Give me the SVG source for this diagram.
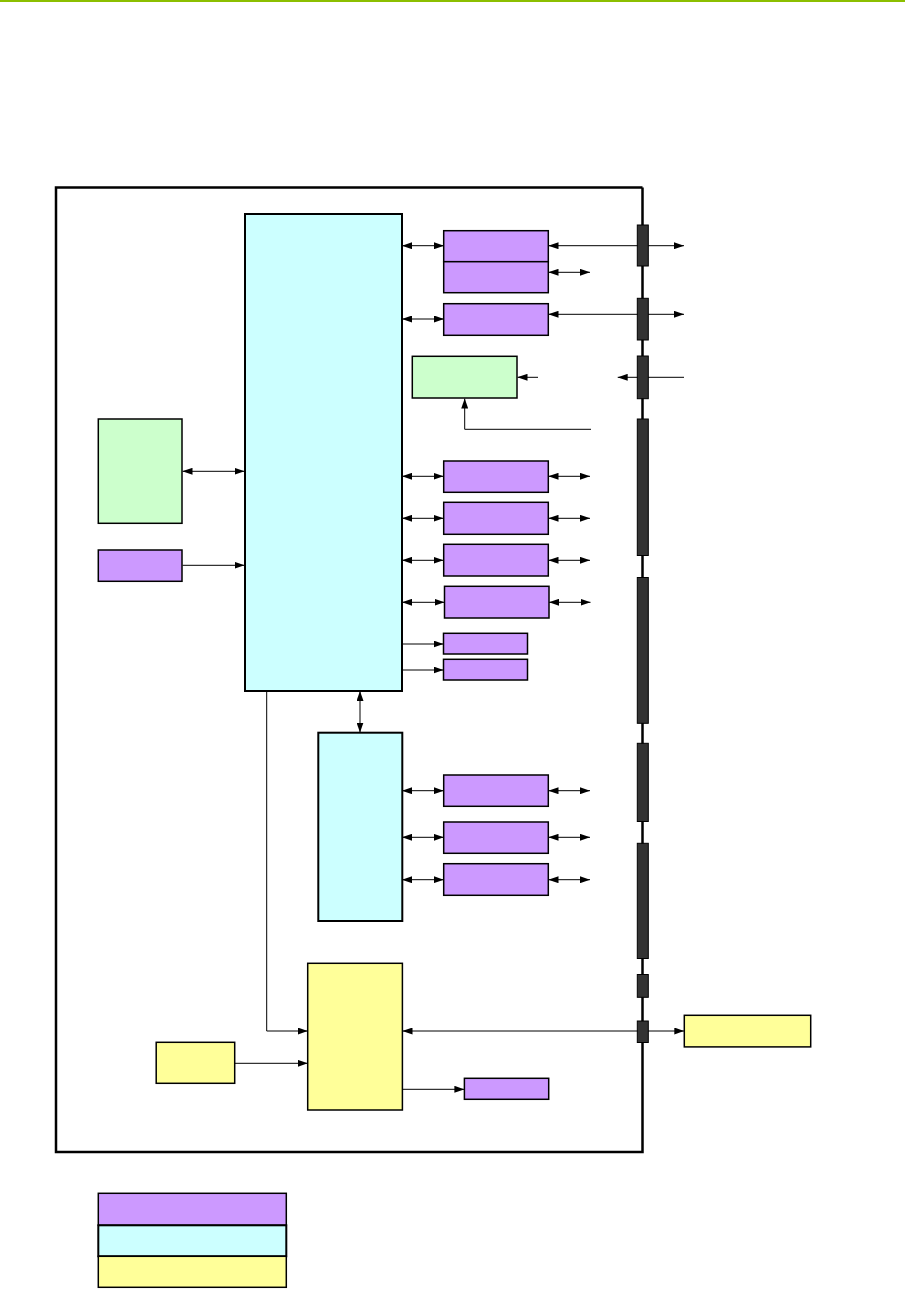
<svg xmlns="http://www.w3.org/2000/svg" width="905" height="1289" viewBox="0 0 905 1289">
<defs>
<marker id="ah" viewBox="0 0 10 7" refX="10" refY="3.5" markerWidth="10" markerHeight="7" markerUnits="userSpaceOnUse" orient="auto-start-reverse">
<path d="M0,0 L10,3.5 L0,7 z" fill="#000"/>
</marker>
<style>
.pu{fill:#CC99FF;stroke:#000;stroke-width:1.5}
.cy{fill:#CCFFFF;stroke:#000;stroke-width:2}
.gr{fill:#CCFFCC;stroke:#000;stroke-width:1.5}
.ye{fill:#FFFF99;stroke:#000;stroke-width:1.5}
.bar{fill:#333333;stroke:#000;stroke-width:1}
.c{fill:none;stroke:#000;stroke-width:1}
.a2{marker-start:url(#ah);marker-end:url(#ah)}
.a1{marker-end:url(#ah)}
</style>
</defs>
<rect width="905" height="1289" fill="#fff"/>
<line x1="0" y1="1" x2="905" y2="1" stroke="#8CBF00" stroke-width="2"/>
<g id="frame">
<polyline points="642.5,187.5 56,187.5 56,1152 642.5,1152 642.5,187.5" fill="none" stroke="#000" stroke-width="2.5"/>
</g>
<g id="connectors">
<line class="c a2" x1="402" y1="245.7" x2="444" y2="245.7"/>
<line class="c a2" x1="402" y1="319" x2="444" y2="319"/>
<line class="c a2" x1="548.5" y1="245.7" x2="684" y2="245.7"/>
<line class="c a2" x1="548.5" y1="272.3" x2="590" y2="272.3"/>
<line class="c a2" x1="548.5" y1="314.3" x2="684" y2="314.3"/>
<line class="c a1" x1="538" y1="377.3" x2="517.5" y2="377.3"/>
<line class="c a1" x1="684" y1="377.3" x2="617.7" y2="377.3"/>
<polyline class="c a1" points="591,429.3 464.7,429.3 464.7,398.5"/>
<line class="c a2" x1="182.5" y1="471.3" x2="244.5" y2="471.3"/>
<line class="c a1" x1="182.5" y1="565.3" x2="244.5" y2="565.3"/>
<line class="c a2" x1="402" y1="476.3" x2="443.5" y2="476.3"/>
<line class="c a2" x1="548.5" y1="476.3" x2="590" y2="476.3"/>
<line class="c a2" x1="402" y1="518.3" x2="443.5" y2="518.3"/>
<line class="c a2" x1="548.5" y1="518.3" x2="590" y2="518.3"/>
<line class="c a2" x1="402" y1="560.3" x2="443.5" y2="560.3"/>
<line class="c a2" x1="548.5" y1="560.3" x2="590" y2="560.3"/>
<line class="c a2" x1="402" y1="602.3" x2="444.5" y2="602.3"/>
<line class="c a2" x1="549" y1="602.3" x2="590.5" y2="602.3"/>
<line class="c a1" x1="402" y1="644" x2="443.5" y2="644"/>
<line class="c a1" x1="402" y1="670" x2="443.5" y2="670"/>
<line class="c a2" x1="360" y1="691" x2="360" y2="732.5"/>
<line class="c a2" x1="402" y1="790.7" x2="443.7" y2="790.7"/>
<line class="c a2" x1="548.5" y1="790.7" x2="590" y2="790.7"/>
<line class="c a2" x1="402" y1="837.3" x2="443.7" y2="837.3"/>
<line class="c a2" x1="548.5" y1="837.3" x2="590" y2="837.3"/>
<line class="c a2" x1="402" y1="879.7" x2="443.7" y2="879.7"/>
<line class="c a2" x1="548.5" y1="879.7" x2="590" y2="879.7"/>
<polyline class="c a1" points="266.7,691 266.7,1031 307.7,1031"/>
<line class="c a1" x1="234.7" y1="1063.3" x2="307.7" y2="1063.3"/>
<line class="c a2" x1="402.5" y1="1031" x2="684.3" y2="1031"/>
<line class="c a1" x1="402.5" y1="1089.3" x2="464.4" y2="1089.3"/>
</g>
<g id="main-cyan"><rect class="cy" x="245" y="214" width="157" height="477"/></g>
<g id="sub-cyan"><rect class="cy" x="318.3" y="732.7" width="84" height="188.3"/></g>
<g id="p-top-a"><rect class="pu" x="443.7" y="230.7" width="104.6" height="31"/></g>
<g id="p-top-b"><rect class="pu" x="443.7" y="261.7" width="104.6" height="31"/></g>
<g id="p-2"><rect class="pu" x="443.7" y="303.7" width="104.6" height="31.6"/></g>
<g id="g-small"><rect class="gr" x="412.3" y="356.3" width="104.7" height="41.7"/></g>
<g id="g-left"><rect class="gr" x="98.3" y="419" width="83.7" height="104.3"/></g>
<g id="p-left"><rect class="pu" x="98.3" y="550" width="83.7" height="31.3"/></g>
<g id="p-3"><rect class="pu" x="443.7" y="461" width="104.6" height="31.3"/></g>
<g id="p-4"><rect class="pu" x="443.7" y="502.3" width="104.6" height="32"/></g>
<g id="p-5"><rect class="pu" x="443.7" y="544.3" width="104.6" height="31.7"/></g>
<g id="p-6"><rect class="pu" x="444.5" y="586.3" width="104.5" height="31.7"/></g>
<g id="p-s1"><rect class="pu" x="443.5" y="633.3" width="84" height="20.7"/></g>
<g id="p-s2"><rect class="pu" x="443.5" y="659.3" width="84" height="20.7"/></g>
<g id="p-7"><rect class="pu" x="443.7" y="775" width="104.6" height="31.3"/></g>
<g id="p-8"><rect class="pu" x="443.7" y="822" width="104.6" height="31.3"/></g>
<g id="p-9"><rect class="pu" x="443.7" y="863.7" width="104.6" height="31.6"/></g>
<g id="y-main"><rect class="ye" x="307.7" y="963.3" width="94.7" height="146.7" stroke-width="2"/></g>
<g id="y-left"><rect class="ye" x="156.2" y="1042.3" width="78.5" height="41"/></g>
<g id="p-bottom"><rect class="pu" x="464.4" y="1078.3" width="84.3" height="21"/></g>
<g id="y-ext"><rect class="ye" x="684.3" y="1015.3" width="126.4" height="31.6"/></g>
<g id="bars">
<rect class="bar" x="637.3" y="225" width="11" height="41"/>
<rect class="bar" x="637.3" y="298.3" width="11" height="41.7"/>
<rect class="bar" x="637.3" y="356" width="11" height="42.7"/>
<rect class="bar" x="637.3" y="419" width="11" height="136.5"/>
<rect class="bar" x="637.3" y="577.5" width="11" height="145.8"/>
<rect class="bar" x="637.3" y="743.3" width="11" height="78.2"/>
<rect class="bar" x="637.3" y="843.3" width="11" height="115.2"/>
<rect class="bar" x="637.3" y="974.5" width="11" height="22.8"/>
<rect class="bar" x="637.3" y="1021" width="11" height="21.5"/>
</g>
<g id="legend">
<rect class="pu" x="98.3" y="1193.3" width="188" height="32"/>
<rect class="cy" x="98.3" y="1225.3" width="188" height="31" stroke-width="1.5"/>
<rect class="ye" x="98.3" y="1256.3" width="188" height="31"/>
</g>
</svg>
